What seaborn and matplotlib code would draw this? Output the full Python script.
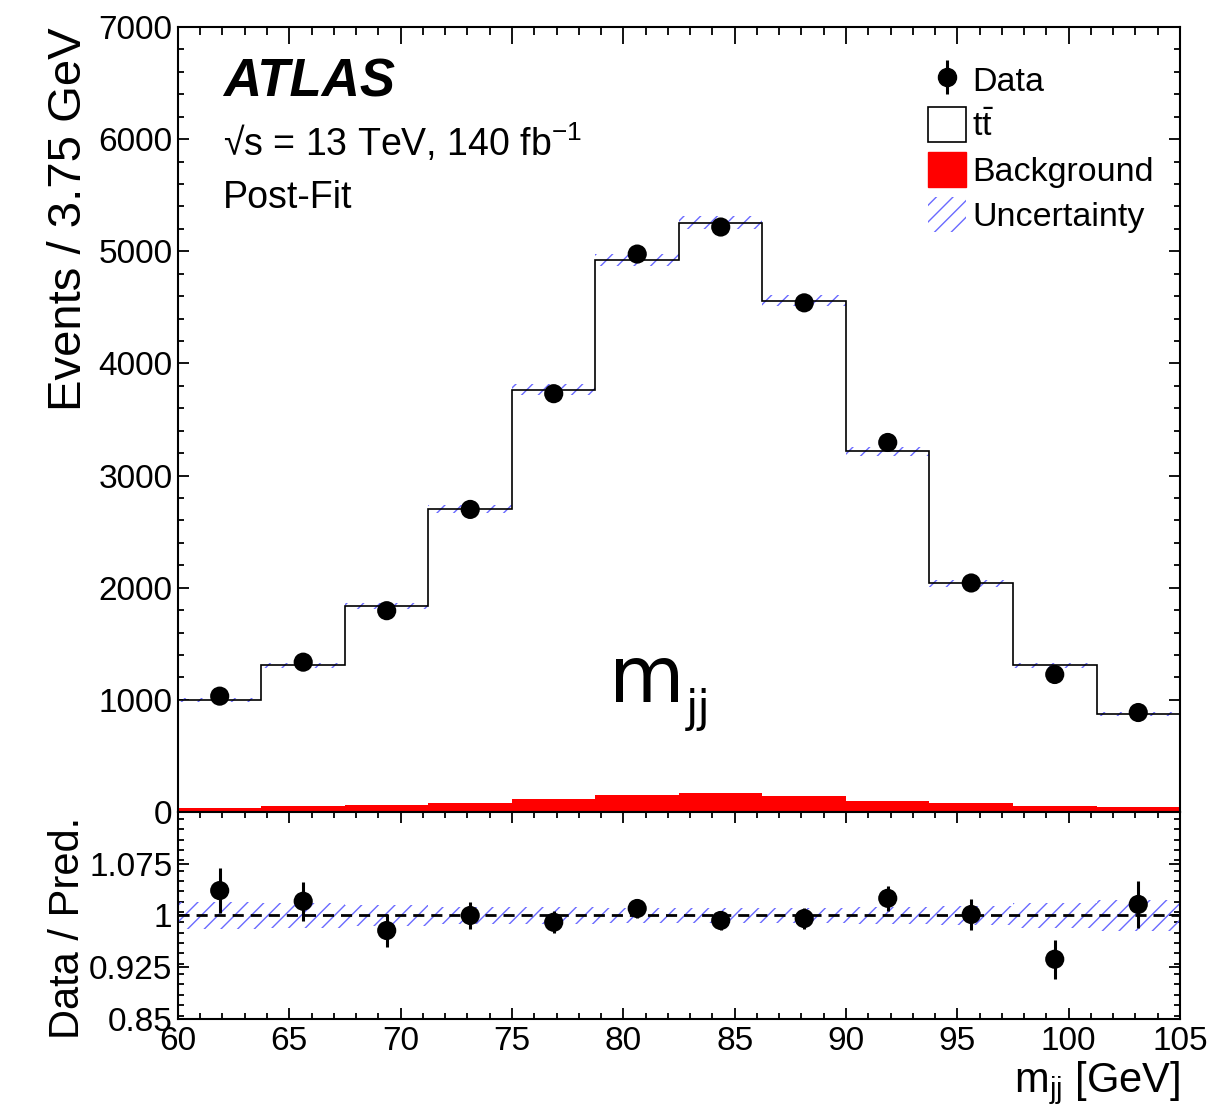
import numpy as np
import matplotlib
matplotlib.use("Agg")
import matplotlib.pyplot as plt
from matplotlib.patches import Patch
from matplotlib.container import ErrorbarContainer
from matplotlib.lines import Line2D
from matplotlib.collections import LineCollection
from matplotlib.ticker import MultipleLocator
import seaborn as sns

# ---- binned m_jj spectrum (GeV) ----
bin_edges = [60.0, 63.75, 67.5, 71.25, 75.0, 78.75, 82.5, 86.25, 90.0, 93.75, 97.5, 101.25, 105.0]
background = [36, 51, 62, 80, 113, 151, 166, 142, 95, 77, 53, 42]
ttbar = [961, 1258, 1773, 2618, 3654, 4774, 5088, 4418, 3120, 1962, 1256, 831]
data = [1033, 1336, 1795, 2698, 3730, 4975, 5216, 4540, 3295, 2042, 1226, 887]
# relative statistical uncertainty of data and relative total prediction uncertainty
data_rel_err = [0.032, 0.028, 0.024, 0.019, 0.016, 0.014, 0.014, 0.015, 0.018, 0.022, 0.028, 0.034]
pred_rel_unc = [0.020, 0.018, 0.015, 0.013, 0.012, 0.011, 0.011, 0.011, 0.012, 0.014, 0.018, 0.022]

sns.set_theme(style="white")
plt.rcParams["font.family"] = ["Liberation Sans", "DejaVu Sans"]
plt.rcParams["mathtext.fontset"] = "custom"
plt.rcParams["mathtext.rm"] = "Liberation Sans"
plt.rcParams["mathtext.it"] = "Liberation Sans:italic"
plt.rcParams["hatch.linewidth"] = 1.0
plt.rcParams["axes.linewidth"] = 1.5
for key in ("text.color", "axes.labelcolor", "xtick.color", "ytick.color", "axes.edgecolor"):
    plt.rcParams[key] = "black"

edges = np.array(bin_edges)
centers = 0.5 * (edges[:-1] + edges[1:])
bkg = np.array(background, float)
tt = np.array(ttbar, float)
obs = np.array(data, float)
pred = bkg + tt
ratio = obs / pred
r_err = np.array(data_rel_err)
unc = np.array(pred_rel_unc)

fig = plt.figure(figsize=(12.13, 11.14), dpi=100)
ax = fig.add_axes([0.1467, 0.2711, 0.8261, 0.7047])
rax = fig.add_axes([0.1467, 0.0853, 0.8261, 0.1858], sharex=ax)

hatch_col = "#6a6aff"

# stacked prediction: background at the bottom, ttbar on top
ax.stairs(bkg, edges, baseline=0, fill=True, color="red", linewidth=0)
ax.stairs(pred, edges, baseline=bkg, fill=True, facecolor="white", linewidth=0)
ax.stairs(pred * (1 + unc), edges, baseline=pred * (1 - unc), fill=True,
          facecolor="none", edgecolor=hatch_col, hatch="//", linewidth=0)
ax.stairs(pred, edges, baseline=None, color="black", linewidth=1.2)

sns.scatterplot(x=centers, y=obs, ax=ax, color="black", s=190, edgecolor="none", zorder=5)
ax.errorbar(centers, obs, yerr=r_err * pred, fmt="none", ecolor="black", elinewidth=2.2, zorder=5)

ax.set_xlim(60, 105)
ax.set_ylim(0, 7000)
ax.yaxis.set_major_locator(MultipleLocator(1000))
ax.yaxis.set_minor_locator(MultipleLocator(200))
ax.xaxis.set_major_locator(MultipleLocator(5))
ax.xaxis.set_minor_locator(MultipleLocator(1))
ax.tick_params(axis="x", which="major", direction="in", length=12, width=1.3, top=True, bottom=True, labelbottom=False)
ax.tick_params(axis="x", which="minor", direction="in", length=6, width=1.3, top=True, bottom=True)
ax.tick_params(axis="y", which="major", direction="in", length=8, width=1.3, left=True, right=True, labelsize=24, pad=4)
ax.tick_params(axis="y", which="minor", direction="in", length=4.5, width=1.3, left=True, right=True)
ax.set_ylabel("Events / 3.75 GeV", fontsize=34, loc="top", labelpad=5)

# labels in the upper left corner
ax.text(0.045, 0.912, "ATLAS", transform=ax.transAxes, fontsize=38, fontweight="bold",
        fontstyle="italic", va="baseline")
ax.text(0.045, 0.836, "\u221as = 13 TeV, 140 fb$^{\\mathregular{-1}}$", transform=ax.transAxes,
        fontsize=27, va="baseline")
ax.text(0.045, 0.770, "Post-Fit", transform=ax.transAxes, fontsize=27, va="baseline")

# variable tag in the middle of the spectrum
ax.text(0.43, 0.14, "m", transform=ax.transAxes, fontsize=56, family="DejaVu Sans", va="baseline")
ax.text(0.507, 0.115, "jj", transform=ax.transAxes, fontsize=32, family="DejaVu Sans", va="baseline")

# legend: data point with a vertical error bar
data_pt = Line2D([], [], marker="o", color="black", markersize=13, linestyle="none")
data_bar = LineCollection([[(0, 0), (0, 1)]], colors="black", linewidths=2.2)
data_handle = ErrorbarContainer((data_pt, (), [data_bar]), has_xerr=False, has_yerr=True)
handles = [
    data_handle,
    Patch(facecolor="white", edgecolor="black", linewidth=1.2),
    Patch(facecolor="red", edgecolor="red"),
    Patch(facecolor="none", edgecolor=hatch_col, hatch="//", linewidth=0),
]
labels = ["Data", r"$\mathrm{t\bar{t}}$", "Background", "Uncertainty"]
ax.legend(handles, labels, loc="upper left", bbox_to_anchor=(0.735, 0.972), frameon=False,
          fontsize=24.5, handlelength=1.1, handleheight=1.2, handletextpad=0.2,
          labelspacing=0.26, borderaxespad=0)

# ratio panel
rax.stairs(1 + unc, edges, baseline=1 - unc, fill=True, facecolor="none",
           edgecolor=hatch_col, hatch="//", linewidth=0)
rax.axhline(1.0, color="black", linestyle=(0, (4, 2.5)), linewidth=2.0)
sns.scatterplot(x=centers, y=ratio, ax=rax, color="black", s=190, edgecolor="none", zorder=5)
rax.errorbar(centers, ratio, yerr=r_err, fmt="none", ecolor="black", elinewidth=2.2, zorder=5)

rax.set_ylim(0.85, 1.15)
rax.set_yticks([0.85, 0.925, 1.0, 1.075])
rax.set_yticklabels(["0.85", "0.925", "1", "1.075"])
rax.yaxis.set_minor_locator(MultipleLocator(0.015))
rax.tick_params(axis="x", which="major", direction="in", length=8, width=1.3, top=True, bottom=True,
                labelsize=24, pad=5)
rax.tick_params(axis="x", which="minor", direction="in", length=4.5, width=1.3, top=True, bottom=True)
rax.tick_params(axis="y", which="major", direction="in", length=8, width=1.3, left=True, right=True,
                labelsize=24, pad=4)
rax.tick_params(axis="y", which="minor", direction="in", length=4.5, width=1.3, left=True, right=True)
rax.set_ylabel("Data / Pred.", fontsize=30, labelpad=2)
rax.yaxis.set_label_coords(-0.09, 0.44)
rax.set_xlabel("m$_{\\mathregular{jj}}$ [GeV]", fontsize=30, loc="right", labelpad=2)

for a in (ax, rax):
    for s in a.spines.values():
        s.set_color("black")
        s.set_linewidth(1.5)

fig.savefig("out.png", dpi=100)
